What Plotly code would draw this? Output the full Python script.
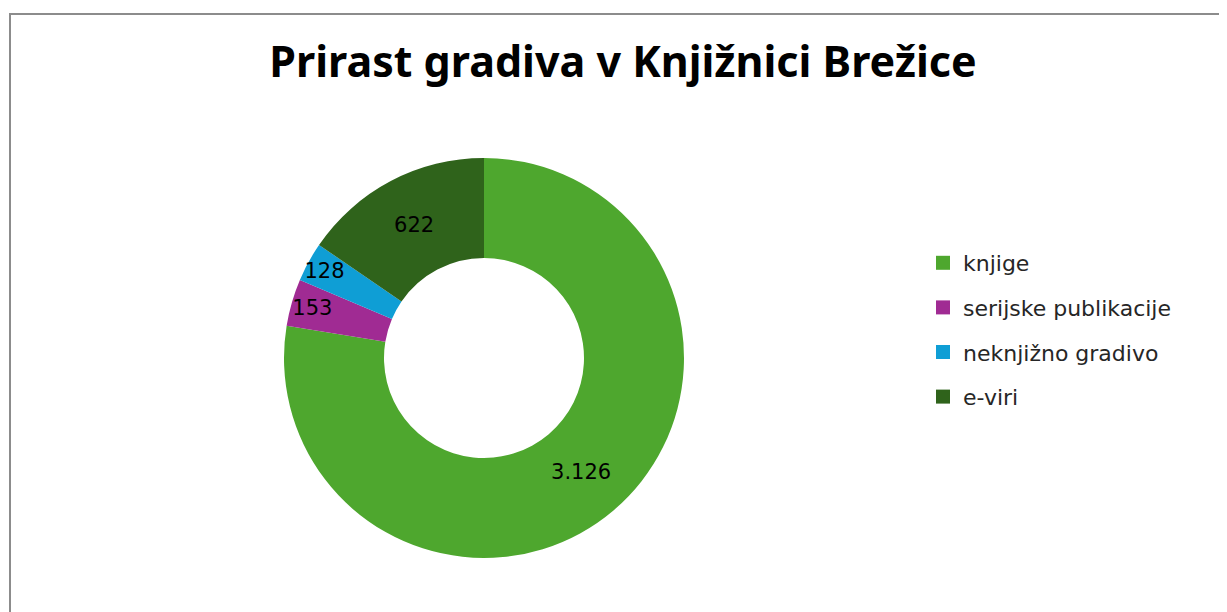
import plotly.graph_objects as go

categories = ["knjige", "serijske publikacije", "neknjižno gradivo", "e-viri"]
values = [3126, 153, 128, 622]
colors = ["#4ea72e", "#a02b93", "#0f9ed5", "#2f631b"]
title_text = "Prirast gradiva v Knjižnici Brežice"

W, H = 1227, 612
OFF = 8  # page body margin

fig = go.Figure()
fig.add_trace(go.Pie(
    labels=categories,
    values=values,
    marker=dict(colors=colors, line=dict(width=0)),
    hole=0.5,
    sort=False,
    direction="clockwise",
    rotation=0,
    texttemplate="%{value:,}",
    textposition="inside",
    insidetextorientation="horizontal",
    textfont=dict(family="DejaVu Sans", size=21, color="black"),
    domain=dict(x=[(284 - OFF) / W, (684 - OFF) / W],
                y=[(54 + OFF) / H, (454 + OFF) / H]),
    hoverinfo="label+value+percent",
    showlegend=False,
))

# legend entries (one per category)
for name, col in zip(categories, colors):
    fig.add_trace(go.Scatter(
        x=[None], y=[None], mode="markers", name=name, legendgroup=name,
        marker=dict(symbol="square", size=14, color=col),
        hoverinfo="skip",
    ))

fig.update_layout(
    width=W, height=H,
    margin=dict(l=0, r=0, t=0, b=0),
    separators=",.",
    paper_bgcolor="white",
    plot_bgcolor="white",
    uniformtext=dict(minsize=21, mode="show"),
    xaxis=dict(visible=False),
    yaxis=dict(visible=False),
    title=dict(text="<b>" + title_text + "</b>", x=(623 - OFF) / W, xanchor="center",
               y=1 - (62 - OFF) / H, yanchor="middle",
               font=dict(family="Noto Sans, Inter, sans-serif", size=43, color="black")),
    legend=dict(x=915 / W, xanchor="left", y=1 - 234 / H, yanchor="top",
                font=dict(family="DejaVu Sans", size=22, color="#262626"),
                itemsizing="trace", traceorder="grouped", tracegroupgap=13),
    shapes=[dict(type="rect", xref="paper", yref="paper",
                 x0=2 / W, x1=1.05, y0=-0.05, y1=1 - 6 / H,
                 line=dict(color="#8c8c8c", width=2), layer="below")],
)

fig.write_html("out.html")
